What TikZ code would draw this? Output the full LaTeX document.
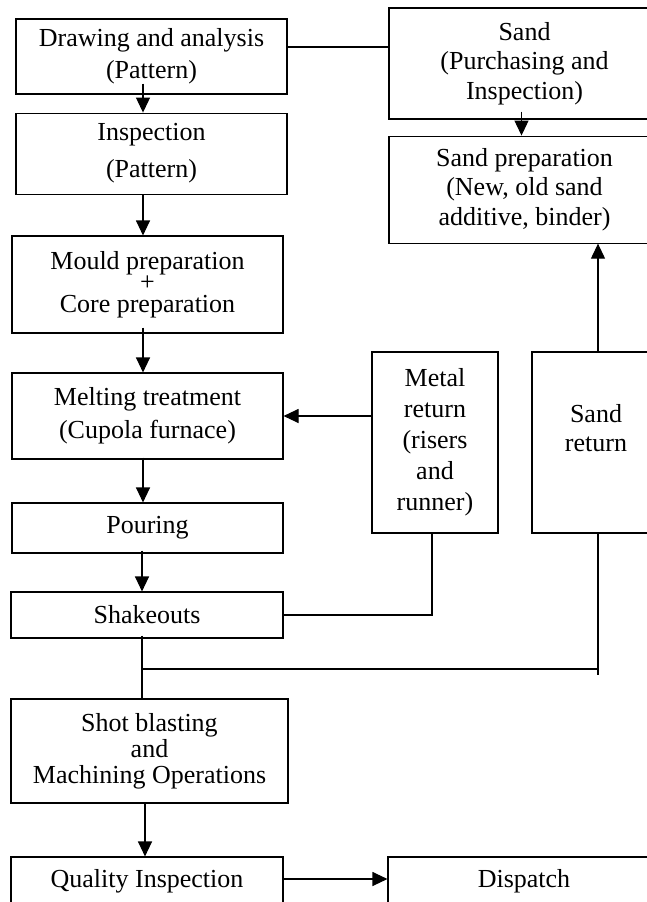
\documentclass[tikz,border=0pt]{standalone}
\usepackage{fontspec}
\setmainfont{Liberation Serif}
\usetikzlibrary{positioning,calc,arrows.meta}

\begin{document}
\begin{tikzpicture}[x=1pt,y=-1pt,
    box/.style={draw,line width=1.1pt,align=center,inner sep=0pt,
      minimum width=271pt,font=\fontsize{26}{29.5}\selectfont},
    link/.style={line width=1.1pt},
    >={Triangle[length=15pt,width=14pt]}]
    \useasboundingbox (0,0) rectangle (647,902);
    \node[box,minimum height=75pt] (drawing) at (151.5,56.5) {Drawing and analysis\\[2.5pt](Pattern)};
    \node[box,minimum height=81pt] (insp) [below=18pt of drawing] {Inspection\\[7.5pt](Pattern)};
    \node[box,minimum height=97pt] (mould) at (147.5,284.5) {Mould preparation\\[-8pt]+\\[-8pt]Core preparation};
    \node[box,minimum height=86pt] (melt) at (147.5,416) {Melting treatment\\[3.5pt](Cupola furnace)};
    \node[box,minimum height=50pt] (pour) at (147.5,528) {Pouring};
    \node[box,minimum width=272pt,minimum height=46pt] (shake) at (147,615) {Shakeouts};
    \node[box,minimum width=277pt,minimum height=104pt] (shot) at (149.5,751) {Shot blasting\\[-3.5pt]and\\[-3.5pt]Machining Operations};
    \node[box,minimum width=272pt,minimum height=48pt] (qual) at (147,881) {Quality Inspection};
    \node[box,minimum width=272pt,minimum height=48pt] (disp) at (524,881) {Dispatch};
    \node[box,minimum height=111pt] (sand) at (524.5,63.5) {Sand\\(Purchasing and\\Inspection)};
    \node[box,minimum height=107pt] (sprep) [below=16pt of sand] {Sand preparation\\(New, old sand\\additive, binder)};
    \node[box,minimum width=126pt,minimum height=181pt,font=\fontsize{26}{31}\selectfont] (metal) at (435,442.5) {Metal\\return\\(risers\\and\\runner)};
    \node[box,minimum width=128pt,minimum height=181pt] (sret) at (596,442.5) {Sand\\return\\~};
    \coordinate (tee) at (142,669);
    \coordinate (tail) at (598,675);
    \draw[link] ([yshift=9.5pt]drawing.east) -- ([yshift=9.5pt]drawing.east -| sand.west);
    \draw[link,->] ([xshift=-8.5pt,yshift=11pt]drawing.south) -- ([xshift=-8.5pt]insp.north);
    \draw[link,->] ([xshift=-8.5pt]insp.south) -- ([xshift=-4.5pt]mould.north);
    \draw[link,->] ([xshift=-4.5pt,yshift=6pt]mould.south) -- ([xshift=-4.5pt]melt.north);
    \draw[link,->] ([xshift=-4.5pt,yshift=2pt]melt.south) -- ([xshift=-4.5pt]pour.north);
    \draw[link,->] ([xshift=-5.5pt,yshift=3pt]pour.south) -- ([xshift=-5pt]shake.north);
    \draw[link,->] (melt.east -| metal.west) -- (melt.east);
    \draw[link] (shake.east) -| ([xshift=-3pt]metal.south);
    \draw[link,->] ([xshift=2pt]sret.north) -- ([xshift=2pt]sret.north |- sprep.south);
    \draw[link] ([xshift=2pt]sret.south) -- (tail);
    \draw[link] ([xshift=-5pt,yshift=3pt]shake.south) -- ([xshift=-7.5pt]shot.north);
    \draw[link] (tee) -- (tee -| tail);
    \draw[link,->] ([xshift=-4.5pt]shot.south) -- ([xshift=-2pt]qual.north);
    \draw[link,->] ([yshift=2pt]qual.east) -- ([yshift=2pt]disp.west);
    \path[->] ([xshift=-3pt,yshift=8pt]sand.south) edge[link] ([xshift=-3pt]sprep.north);
\end{tikzpicture}
\end{document}
